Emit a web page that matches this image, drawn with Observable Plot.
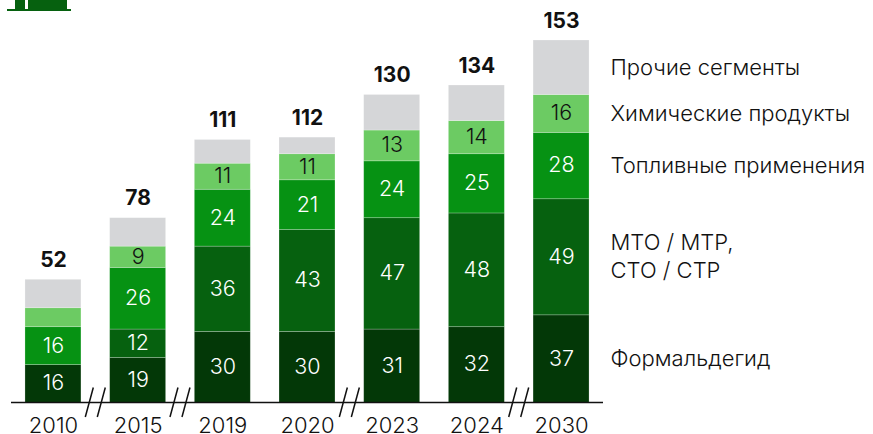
<!DOCTYPE html>
<html>
<head>
<meta charset="utf-8">
<script src="https://cdn.jsdelivr.net/npm/d3@7"></script>
<script src="https://cdn.jsdelivr.net/npm/@observablehq/plot@0.6"></script>
<style>
html,body{margin:0;padding:0;background:#fff}
#wrap{position:relative;width:873px;height:434px;overflow:hidden}
svg{display:block}
.logo{position:absolute;background:#06610f}
</style>
</head>
<body>
<div id="wrap">
<div class="logo" style="left:7px;top:9px;width:64px;height:2px"></div>
<div class="logo" style="left:15px;top:0;width:10px;height:9px"></div>
<div class="logo" style="left:28px;top:0;width:39px;height:9px"></div>
</div>
<script>
const years = ["2010","2015","2019","2020","2023","2024","2030"];
const formaldehyde = [16,19,30,30,31,32,37];
const mto = [null,12,36,43,47,48,49];
const fuel = [16,26,24,21,24,25,28];
const chemicals = [8,9,11,11,13,14,16];
const others = [12,12,10,7,15,15,23];
const totals = [52,78,111,112,130,134,153];
const hiddenLabels = ["2010"];
const breaksAfter = ["2010","2015","2020","2024"];

const seriesNames = ["Формальдегид","МТО / МТР,\nСТО / СТР","Топливные применения","Химические продукты","Прочие сегменты"];
const seriesValues = [formaldehyde,mto,fuel,chemicals,others];
const seriesColors = ["#033807","#06610f","#069213","#6ccb63","#d5d6d8"];
const labelColors = ["#fff","#fff","#fff","#111","#111"];

const rows = seriesNames.flatMap((s,i)=>years.map((y,j)=>({
  year:y, series:s, value:seriesValues[i][j]||0, idx:i,
  labelled:i<4 && !(i===3 && hiddenLabels.includes(y)) && seriesValues[i][j]>0
})));
const totalRows = years.map((y,i)=>({year:y,total:totals[i]}));
const font = "Inter, Roboto, 'Noto Sans', sans-serif";

const chart = Plot.plot({
  width:873, height:434,
  marginTop:40, marginBottom:31.5, marginLeft:0, marginRight:0,
  style:{fontFamily:font, background:"#fff", overflow:"visible"},
  x:{domain:years, range:[11,603], paddingInner:0.339, paddingOuter:0.165, round:false, label:null},
  y:{domain:[0,153], label:null, axis:null},
  color:{domain:seriesNames, range:seriesColors},
  marks:[
    Plot.rectY(rows, Plot.stackY({x:"year", y:"value", z:"series", order:null, fill:"series", stroke:"#fff", strokeOpacity:0.3, strokeWidth:0.75})),
    Plot.text(rows.filter(d=>d.labelled), Plot.stackY({x:"year", y:"value", z:"series", order:null, text:d=>String(d.value), fill:d=>labelColors[d.idx], fontSize:21.5, fontWeight:300, dy:-0.5})),
    Plot.text(totalRows, {x:"year", y:"total", text:d=>String(d.total), dy:-19.5, fontSize:21, fontWeight:700, fill:"#111"}),
    Plot.text(rows.filter(d=>d.year==="2030"), Plot.stackY({x:"year", y:"value", z:"series", order:null, text:"series", textAnchor:"start", dx:49, dy:-2, fontSize:22, fontWeight:300, fill:"#111", lineHeight:1.27})),
    Plot.axisX({tickSize:0, tickPadding:14, fontSize:22, fontWeight:300, color:"#111", label:null}),
    (index, {x, y}) => {
      const svg = d3.create("svg:g");
      const base = y(0);
      svg.append("line").attr("x1",x.range()[0]).attr("x2",x.range()[1]).attr("y1",base).attr("y2",base).attr("stroke","#111").attr("stroke-width",1.5);
      for (const b of breaksAfter) {
        const i = years.indexOf(b);
        const mid = (x(years[i]) + x(years[i+1]) + x.bandwidth())/2;
        for (const off of [-6,6]) {
          svg.append("line").attr("x1",mid+off-4).attr("x2",mid+off+4).attr("y1",base+14.5).attr("y2",base-15).attr("stroke","#111").attr("stroke-width",1.5);
        }
      }
      return svg.node();
    }
  ]
});
document.getElementById("wrap").prepend(chart);
</script>
</body>
</html>
